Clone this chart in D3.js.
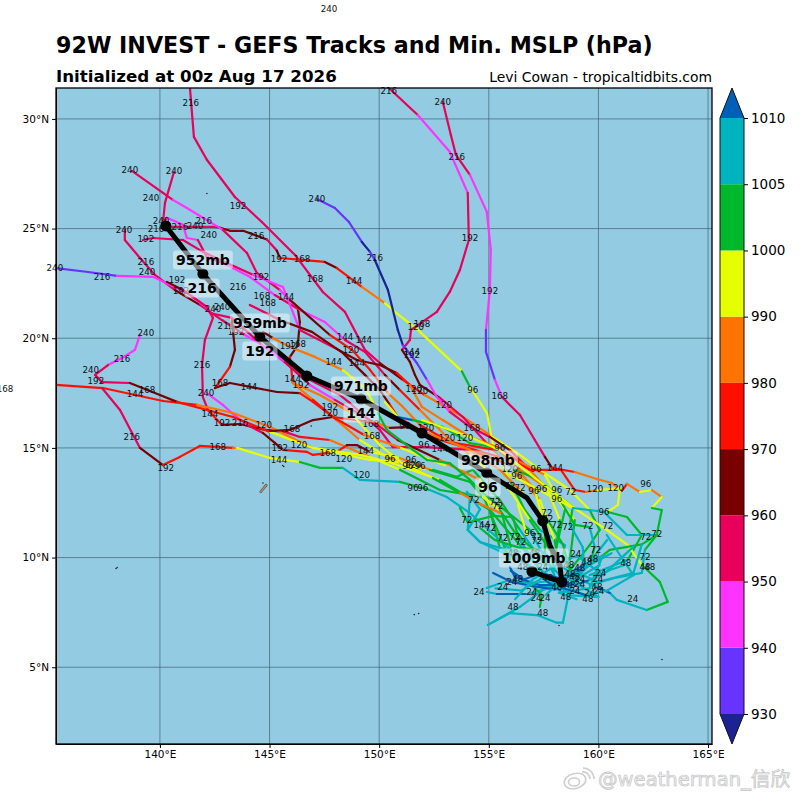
<!DOCTYPE html>
<html>
<head>
<meta charset="utf-8">
<script src="https://cdn.jsdelivr.net/npm/d3@7"></script>
<style>
body { margin: 0; background: #fff; }
text { font-family: "DejaVu Sans", sans-serif; }
.axis text { font-size: 10.5px; fill: #000; }
.axis line, .axis path { stroke: #000; }
.grid { stroke: #3f5a68; stroke-opacity: 0.65; stroke-width: 1; }
.seg { fill: none; stroke-width: 2.2; stroke-linecap: round; }
.hour { font-size: 8.7px; fill: #111; text-anchor: middle; }
.mean { font-size: 14px; font-weight: bold; fill: #000; text-anchor: middle; }
</style>
</head>
<body>
<script>
//colour levels of minimum pressure (hPa)
var levels = [930, 940, 950, 960, 970, 980, 990, 1000, 1005, 1010];
var levelColors = ["#1a2294", "#6633ff", "#ff33ff", "#e8005a", "#780000", "#ff0f00", "#ff7300", "#e6ff00", "#00b82b", "#00b4bf", "#0060b8"];
var lonTicks = [140, 145, 150, 155, 160, 165];
var latTicks = [5, 10, 15, 20, 25, 30];

//ensemble member tracks: [lon, lat, mslp]
var tracks = [
[[141.37,31.41,955],[141.55,29.18,955],[142.14,28.14,955],[143.42,26.44,955],[144.65,25.3,955],[146.16,23.8,955],[147.43,22.11,955],[148.44,21.2,955],[149.35,19.47,955],[150.03,18.87,965],[151.08,18.1,975],[152.08,17.41,985],[153.82,16.41,985],[155.18,15.5,995],[156.42,14.68,995],[157.33,14,995],[158.7,13.08,995],[159.6,12.17,1002],[160.06,11.26,1002],[159.6,10.57,1002],[158.7,9.43,1007]],
[[140.14,25.08,955],[141.5,25.08,955],[142.6,25.08,965],[143.2,24.9,965],[143.8,24.9,965],[144.88,24.5,955],[145.33,24.0,965],[145.47,23.66,975],[146.48,23.57,975],[147.52,23.48,965],[148.07,23.2,975],[149.21,22.34,985],[150.26,21.6,995],[150.72,21.2,995],[151.76,20.38,995],[153.77,18.5,1002],[154.14,17.78,995],[154.91,16.6,995],[155.18,15.23,995],[155.96,13.54,1002],[156.64,12.17,1002],[157.33,11.26,1007],[158.47,10.57,1007],[158.24,9.2,1007]],
[[150.44,31.41,955],[151.76,30.18,945],[153.22,28.5,945],[154.04,26.63,955],[154.09,24.48,955],[153.68,23.11,955],[153.22,22.11,955],[152.63,21.2,955],[151.76,20.6,955],[151.45,20.38,955],[151.4,19.92,955],[151.04,19.47,965],[151.4,18.92,965],[151.63,18.33,965],[151.86,17.87,965],[152.77,17.28,955],[153.82,16.41,955],[155.18,14.91,975],[156.42,14.0,985],[157.78,13.08,995],[158.92,11.71,1002],[158.7,9.9,1007]],
[[152.9,30.78,955],[153.27,29.27,955],[153.5,28.36,955],[154.14,27.45,945],[154.91,25.76,945],[155.09,24.03,945],[155.05,22.2,945],[154.87,20.38,935],[154.87,19.38,935],[155.28,18.1,945],[155.6,17.32,955],[156.42,16.5,955],[157.1,15.36,955],[157.56,14.59,965],[157.88,14.09,975],[158.92,13.9,985],[159.93,13.58,985],[160.61,13.4,985],[161.07,13.04,975],[161.3,13.36,985],[161.89,12.99,995],[162.44,13.08,985],[162.89,12.76,995],[162.44,12.26,1002],[162.89,12.17,1002],[162.66,11.03,1002],[162.12,10.35,1007],[161.98,9.3,1007],[160.75,9.07,1007],[159.6,8.75,1007]],
[[147.16,26.35,935],[147.98,25.94,935],[148.62,25.3,935],[149.21,24.39,925],[149.58,23.94,935],[149.8,23.57,925],[150.4,22.2,925],[150.85,20.38,925],[151.08,19.69,935],[151.72,18.87,935],[152.18,18.1,945],[152.63,17.32,945],[153.22,16.64,955],[154.14,15.96,955],[155.05,15.5,965],[155.96,14.9,975],[156.87,14.0,985],[157.69,13.08,995],[158.24,11.71,1002],[158.0,9.9,1007]],
[[138.72,27.63,955],[140.14,26.63,955],[140.59,26.31,945],[141.23,25.94,945],[142.87,24.94,955],[143.97,23.89,955],[144.42,22.98,955],[145.47,22.2,945],[146.29,21.38,965],[146.38,20.74,965],[146.29,19.69,965],[145.93,19.15,975],[146.06,17.96,985],[146.98,17.19,975],[148.07,16.27,985],[149.12,15.36,995],[150.35,14.59,985],[151.54,14.13,995],[152.45,14.0,1002],[153.54,13.68,1002],[154.27,14.0,1002],[155.5,12.63,1002],[156.42,11.26,1007],[157.56,9.66,1007]],
[[140.64,27.58,955],[140.23,26.17,955],[140.14,25.3,955],[140.32,25.49,945],[141.05,25.17,945],[141.23,24.57,945],[141.73,24.48,955],[142.14,23.71,955],[143.06,23.34,945],[144.1,22.8,945],[145.24,21.97,955],[146.38,21.29,945],[147.52,20.74,945],[148.44,19.92,955],[149.35,19.38,955],[150.26,18.33,965],[150.94,17.64,975],[151.86,16.73,985],[153.0,15.59,985],[154.14,14.68,995],[155.96,13.08,995],[156.87,11.71,1002],[157.78,10.35,1007]],
[[138.4,24.94,955],[138.4,24.48,955],[139.09,23.66,955],[139.77,22.89,955],[140.68,22.2,965],[141.82,21.52,955],[142.83,20.83,955],[143.88,20.15,945],[145.02,19.47,955],[146.38,18.33,955],[148.21,17.41,955],[148.66,17.05,955],[150.03,15.82,955],[150.62,15.04,955],[152.18,15.04,955],[154.14,14.91,975],[155.96,14.22,985],[157.33,12.63,995],[158.0,10.8,1002],[158.24,9.43,1007]],
[[139.22,24.48,955],[139.68,24.57,955],[141.05,24.48,955],[141.96,23.94,955],[143.06,23.43,955],[144.24,22.89,945],[145.61,22.34,945],[146.38,20.38,955],[147.98,19.56,965],[148.98,19.01,965],[150.03,18.78,965],[150.8,18.42,975],[151.4,17.87,985],[151.95,16.87,985],[152.9,16.27,985],[154.14,15.5,985],[155.37,15.04,975],[156.42,14.36,985],[157.56,13.77,995],[158.47,12.17,1002],[158.0,10.1,1007]],
[[135.26,23.2,935],[136.72,23.02,935],[138.04,22.84,945],[139.68,22.8,945],[141.23,22.07,945],[142.14,21.38,945],[142.28,21.15,955],[143.28,20.93,955],[143.65,20.6,955],[144.65,19.69,945],[145.7,18.92,955],[146.84,17.87,945],[147.98,17.19,955],[149.8,16.14,955],[150.85,15.36,965],[152.77,14.45,985],[154.6,13.54,995],[155.05,12.17,1002],[155.5,10.44,1007],[157.1,9.43,1007]],
[[140.32,22.57,965],[141.05,22.2,955],[142.14,21.43,955],[142.42,20.93,955],[142.05,19.92,955],[141.92,18.78,955],[141.96,17.32,955],[142.19,16.73,975],[142.83,16.05,965],[143.65,16.09,965],[144.79,15.82,965],[145.7,15.73,955],[146.38,15.5,975],[147.75,15.36,985],[149.58,14.59,995],[150.94,14.0,1002],[152.77,13.08,1002],[154.14,12.86,1007],[154.04,11.26,1007],[154.6,10.71,1007],[156.87,9.66,1007]],
[[142.14,17.5,945],[142.87,16.96,945],[143.28,16.59,945],[143.97,16.05,955],[144.7,15.68,965],[145.24,15.23,965],[145.61,14.91,975],[146.7,14.82,975],[146.98,14.68,975],[148.07,14.82,975],[148.53,15.13,965],[148.98,15.13,965],[149.58,14.82,995],[150.94,14.54,985],[152.31,14,1002],[154.14,13.45,1002],[154.82,12.63,1002],[155.96,9.9,1007]],
[[135.26,17.87,975],[137.4,17.73,975],[140.14,17.14,975],[141.69,16.96,985],[143.33,16.59,985],[145.02,15.96,985],[145.93,15.5,985],[146.98,15.0,995],[149.58,14.45,995],[150.94,14.36,985],[152.45,13.63,1002],[153.68,12.95,1002],[154.73,12.76,995],[155.5,12.17,1002],[156.42,10.8,1007],[157.33,9.43,1007]],
[[137.36,18.0,955],[138.63,17.96,965],[140.0,17.41,965],[140.78,17.1,975],[143.33,16.41,975],[145.02,15.73,995],[146.98,15,995],[149.12,14.68,995],[150.44,14.36,995],[152.77,13.54,1002],[155.05,12.17,1002],[156.42,10.57,1007],[157.78,8.98,1007]],
[[137.36,17.73,955],[138.18,16.73,955],[139.09,15.0,965],[140.14,14.22,975],[140.91,14.59,975],[141.82,15.09,975],[143.33,15.0,985],[143.51,15.0,995],[145.02,14.54,995],[146.38,14.36,1002],[147.3,14.09,1002],[148.34,14.09,1007],[149.12,13.54,1007],[150.94,13.45,1002],[152.31,13.08,1007],[153.09,12.76,1007],[154.14,12.03,1007],[155.5,10.8,1007],[157.33,9.2,1007]],
[[139.09,20.15,945],[138.86,19.47,945],[138.27,19.1,945],[137.63,18.78,955],[137.04,18.33,955],[137.36,18.0,955]],
[[143.28,20.83,965],[143.42,19.47,965],[143.19,18.69,975],[142.51,17.73,965],[143.19,17.96,965],[145.34,17.55,965],[146.38,17.5,975],[146.98,17.1,975],[147.89,16.41,975],[149.9,16.14,985],[150.49,15.91,965],[151.54,15.96,965],[152.77,15.36,975],[155.96,14.45,985],[157.1,13.08,995],[157.78,10.57,1002],[158.0,9.4,1007]],
[[145.02,15.77,965],[145.93,15.82,965],[146.98,16.27,965],[147.89,16.41,975],[149.3,15.6,985],[151.0,15.0,995],[153.0,14.2,1002]],
[[145.93,21.75,965],[147.75,20.15,975],[148.76,19.47,975],[149.58,18.56,975],[150.4,17.5,985],[151.08,16.87,985],[151.86,16.05,975],[153.22,15.27,975],[155.28,14.91,975],[156.87,14,975],[158.29,14.0,975],[158.92,13.08,975],[159.43,12.99,985],[159.97,13.08,995],[160.98,13.17,995],[160.89,12.4,995],[160.43,12.08,1002],[161.3,11.85,1002],[161.98,11.03,1002],[161.34,9.9,1007],[159.6,9.2,1007]],
[[144.1,21.52,955],[145.47,20.83,965],[146.93,20.29,965],[148.34,19.33,965],[149.35,18.33,965],[150.03,17.64,965],[150.49,16.96,975],[150.85,16.41,975],[151.86,15.82,985],[154.14,14.91,985],[155.5,14.0,985],[156.42,13.08,995],[157.56,11.71,1002],[157.56,9.66,1007]],
[[144.7,20.29,965],[145.15,20.01,985],[145.93,19.6,985],[147.07,19.15,985],[148.34,18.55,995],[149.35,17.73,995],[149.71,17.1,995],[149.94,16.6,1002],[150.35,15.82,1002],[151.54,14.91,1002],[152.18,14.45,1002],[153.22,14.31,1002],[154.14,13.54,1002],[154.73,12.95,1002],[156.87,11.26,1007],[158.0,9.2,1007]],
[[146.06,17.96,985],[147.3,17.41,985],[148.66,16.64,995],[150.03,15.13,995],[151.04,14.31,995],[152.45,13.63,1002],[153.68,12.95,985],[154.5,12.5,985],[155.6,12.0,1002],[156.0,10.5,1007]],
[[150.26,17.1,995],[150.85,16.41,1012],[151.54,16.27,1002],[152.9,15.96,1002],[154.14,15.22,1002],[155.18,15.04,1007],[156.19,14,1002],[157.1,13.63,1002],[158.83,12.3,1002],[158.7,11.49,1007],[159.28,10.48,1007],[159.37,9.43,1007]],
[[151.95,16.27,995],[154.14,15.5,995],[155.5,14.91,995],[157.1,13.63,995],[158.83,12.3,995],[160.38,11.26,995],[161.34,10.57,995],[161.98,9.66,1002],[162.8,8.89,1002],[163.16,7.98,1002],[162.2,7.61,1007],[160.84,8.07,1007],[160.52,8.39,1012],[159.93,8.66,1007],[158.7,9.2,1007]],
[[158.33,12.49,1002],[158.92,11.49,1002],[159.6,11.39,1007],[159.83,10.48,1002],[159.6,9.66,1007],[158.7,8.98,1007]],
[[155.96,13.8,995],[158.83,12.26,1007],[160.25,12.08,1007],[161.3,11.03,1007],[162.66,11.03,1002],[161.98,10.6,1002],[160.52,10.35,1002],[159.75,9.75,1007],[158.92,9.2,1007]],
[[154.96,6.93,1007],[155.96,7.47,1007],[157.19,7.38,1007],[158.1,7.03,1007],[158.38,7.03,1007],[158.56,7.93,1007],[158.7,8.66,1007],[159.15,9.43,1007]],
[[154.96,6.93,1007],[156.42,7.75,1007],[157.46,8.52,1007],[158.38,8.98,1007]],
[[154.91,8.43,1007],[155.37,8.34,1012],[156.74,8.34,1007],[157.92,8.66,1007],[159.06,9.43,1007]],
[[154.91,8.61,1007],[155.96,8.98,1007],[156.87,8.84,1007],[158.24,8.52,1012],[158.92,8.98,1007],[160.06,9.66,1007]],
[[155.96,9.57,1012],[156.19,9.11,1012],[157.33,8.75,1012],[158.92,8.75,1012],[159.6,8.98,1007],[160.52,9.43,1007],[161.2,9.66,1007]],
[[157.33,7.75,1002],[157.42,8.29,1002],[156.87,8.84,1007],[158.7,9.0,1007],[160.0,8.2,1007],[158.4,8.3,1007]],
[[156.9,9.5,1012],[157.8,8.8,1012],[159.4,9.7,1007],[160.2,10.1,1007],[159.6,8.6,1007],[158.2,8.4,1007],[159.0,8.1,1007]],
[[154.0,13,1007],[154.6,12.2,1007],[154.04,11.26,1007],[154.6,10.71,1007],[155.5,10.44,1007],[156.42,10.27,1007]],
[[153.68,12.26,1002],[154.04,11.6,1002],[155.2,11.9,1002],[156.1,11.85,1002],[156.28,11.17,1002],[156.55,10.8,1002],[157.56,9.9,1007],[158.24,9.2,1007]],
[[156.33,12.4,995],[156.74,11.03,995]],
[[154.6,11.35,1002],[155.28,10.8,1002],[156.42,10.44,1002],[157.33,10.35,1007],[158.6,9.4,1007]],
[[157.6,11.85,1002],[158.38,10.6,1002],[158.7,9.4,1007],[158.2,8.6,1012]],
[[155.2,9.3,1012],[156.0,8.9,1012],[157.0,8.7,1012],[158.0,8.55,1012],[159.0,8.9,1007]],
[[156.0,9.4,1012],[156.6,9.0,1012],[157.4,9.3,1012],[158.4,9.0,1012],[159.3,9.5,1007],[160.6,10.2,1007]],
[[155.3,8.6,1007],[156.5,8.5,1007],[157.5,9.1,1007],[158.6,8.4,1007],[159.6,9.8,1007],[160.4,10.8,1007]],
[[156.2,8.1,1007],[157.0,9.0,1007],[158.0,9.6,1007],[159.0,10.1,1007],[160.2,9.2,1007],[161.6,10.5,1007]],
[[160.38,11.03,1007],[161.07,9.98,1007],[161.6,9.2,1007],[160.4,8.5,1007],[159.4,8.3,1012],[158.4,8.6,1007]],
[[161.98,10.6,1007],[161.6,9.3,1007],[160.0,8.9,1007],[158.8,9.4,1007],[157.6,8.3,1007]]
];

//forecast hour labels: [hour, lon, lat]
var hourLabels = [
[240,147.71,35.02],[216,141.41,30.73],[216,150.44,31.28],[240,152.9,30.78],[216,153.54,28.27],[240,138.63,27.67],[240,140.64,27.63],[240,139.59,26.4],[192,143.56,26.03],[240,147.16,26.35],
[216,142.0,25.35],[240,140.05,25.35],[216,140.91,25.08],[216,139.82,24.98],[240,141.6,25.12],[240,138.36,24.94],[192,139.36,24.53],[240,142.23,24.71],[216,144.38,24.66],[192,154.14,24.57],
[216,149.8,23.66],[192,145.43,23.62],[168,146.48,23.62],[216,139.36,23.48],[240,139.41,23.02],[216,137.36,22.8],[240,135.21,23.2],[192,140.78,22.66],[192,144.61,22.8],[168,147.07,22.7],
[144,148.85,22.61],[192,140.96,22.16],[216,143.56,22.34],[192,155.05,22.16],[168,144.65,21.93],[144,145.75,21.88],[168,144.92,21.61],[240,142.42,21.34],[240,142.83,21.43],[216,143.01,20.56],
[192,143.47,20.29],[120,151.67,20.52],[168,151.95,20.65],[240,139.36,20.24],[144,148.44,20.06],[144,149.3,19.92],[192,145.84,19.65],[168,146.29,19.74],[120,148.71,19.47],[144,151.49,19.38],
[192,151.49,19.24],[216,141.92,18.78],[144,147.93,18.92],[144,148.98,18.87],[216,138.27,19.06],[240,136.85,18.55],[144,146.06,18.14],[192,146.43,17.87],[192,137.08,18.05],[168,142.74,17.96],
[144,144.06,17.78],[144,138.86,17.46],[168,139.41,17.64],[168,132.93,17.69],[240,142.1,17.5],[120,151.58,17.69],[120,151.86,17.6],[96,154.27,17.64],[168,155.5,17.37],[120,152.95,16.96],
[192,147.75,16.87],[120,147.75,16.59],[144,142.28,16.55],[192,142.83,16.14],[216,143.65,16.14],[120,144.74,16.05],[168,146.02,15.86],[168,149.62,16.09],[168,149.67,15.55],[216,138.72,15.5],
[168,154.23,15.91],[96,151.17,16],[120,152.13,15.91],[120,153.09,15.45],[120,153.91,15.45],[96,152.04,15.13],[144,152.77,14.95],[192,145.47,15],[168,142.64,15.04],[120,146.34,15.13],
[144,145.43,14.45],[168,147.66,14.77],[120,148.39,14.5],[144,149.39,14.86],[96,150.49,14.5],[96,151.45,14.45],[96,151.31,14.18],[120,151.54,14.22],[96,151.86,14.18],[192,140.27,14.09],
[120,149.21,13.77],[96,151.54,13.17],[96,151.99,13.17],[96,155.5,15],[96,157.15,14.04],[144,158.01,14.09],[120,155.96,14.04],[96,156.28,13.72],[96,157.05,13.04],[96,157.42,13.13],
[96,158.1,13.08],[72,158.74,12.99],[120,159.84,13.13],[120,160.79,13.17],[96,162.16,13.36],[96,158.1,12.67],[96,160.25,12.08],[72,155.96,13.26],[72,156.42,13.17],[72,154.32,12.63],
[72,155.28,12.54],[72,155.41,12.35],[72,157.65,12.03],[72,157.69,11.76],[72,158.1,11.49],[72,158.6,11.39],[72,159.52,11.44],[72,160.43,11.44],[72,154,11.71],[144,154.68,11.49],
[72,155.09,11.35],[72,155.64,10.89],[72,156.19,10.94],[72,156.46,10.71],[96,156.87,11.12],[72,157.19,10.94],[72,157.19,10.76],[72,162.16,10.94],[72,162.66,11.08],[72,159.88,10.35],
[72,162.12,10.03],[48,162.12,9.57],[48,162.34,9.57],[48,161.25,9.75],[24,158.97,10.16],[48,159.74,9.94],[48,159.47,9.8],[48,158.65,9.66],[48,159.15,9.53],[24,160.11,9.3],
[24,159.97,9.02],[48,159.93,8.66],[24,160.02,8.48],[24,161.57,8.11],[48,159.52,8.11],[24,159.6,8.39],[48,158.7,9.25],[24,159.15,9.02],[48,158.92,9.12],[48,158.7,8.75],
[24,159.15,8.8],[48,158.1,8.66],[24,158.92,8.48],[48,158.51,8.2],[24,157.56,8.16],[24,157.15,8.16],[24,156.96,8.43],[48,156.1,7.75],[48,157.46,7.47],[24,154.55,8.43],
[24,155.64,8.66],[24,156.05,8.89],[48,156.32,9.02],[48,156.55,9.57],[24,157.46,9.57],[48,157.69,9.07],[48,156.1,10.2],[48,157.1,10.2]
];

//ensemble mean track and its labels
var meanTrack = [[156.97,9.37],[157.78,9.07],[158.33,8.89],[158.24,9.66],[157.78,10.57],[157.46,11.67],[156.74,12.72],[154.91,13.86],[151.95,15.68],[149.17,17.23],[146.7,18.28],[144.56,20.06],[141.96,22.93],[140.27,25.12]];
var meanDots = [[156.97,9.37],[158.33,8.89],[157.46,11.67],[154.91,13.86],[151.95,15.68],[149.17,17.23],[146.7,18.28],[144.56,20.06],[141.96,22.93],[140.27,25.12]];
var meanLabels = [["952mb",141.96,23.57],["216",141.92,22.29],["959mb",144.56,20.7],["192",144.56,19.42],["971mb",149.17,17.82],["144",149.17,16.59],["998mb",154.96,14.45],["96",154.96,13.22],["1009mb",157.05,9.98]];

//small islands on the map
var islands = [[142.14,26.6],[138.0,9.5],[138.05,9.55],[151.6,7.4],[151.8,7.45],[162.9,5.35],[146.9,16.0],[145.6,14.2],[145.65,14.15],[144.7,13.4],[158.2,6.9]];

var width = 800, height = 800;

var svg = d3.select("body")
    .append("svg")
    .attr("width", width)
    .attr("height", height);

//map frame
var x = d3.scaleLinear().domain([135.26, 165.18]).range([56, 712]);
var y = d3.scaleLinear().domain([1.5, 31.41]).range([744, 88]);
var color = d3.scaleThreshold().domain(levels).range(levelColors);

svg.append("clipPath")
    .attr("id", "frame")
    .append("rect")
    .attr("x", 56)
    .attr("y", 88)
    .attr("width", 656)
    .attr("height", 656);

svg.append("rect")
    .attr("x", 56)
    .attr("y", 88)
    .attr("width", 656)
    .attr("height", 656)
    .attr("fill", "#92cbe2");

//graticule
svg.selectAll(".gridx")
    .data(lonTicks)
    .enter()
    .append("line")
    .attr("class", "grid")
    .attr("x1", function(d){ return x(d); })
    .attr("x2", function(d){ return x(d); })
    .attr("y1", 88)
    .attr("y2", 744);

svg.selectAll(".gridy")
    .data(latTicks)
    .enter()
    .append("line")
    .attr("class", "grid")
    .attr("y1", function(d){ return y(d); })
    .attr("y2", function(d){ return y(d); })
    .attr("x1", 56)
    .attr("x2", 712);

//islands
svg.append("g")
    .selectAll("circle")
    .data(islands)
    .enter()
    .append("circle")
    .attr("cx", function(d){ return x(d[0]); })
    .attr("cy", function(d){ return y(d[1]); })
    .attr("r", 0.8)
    .attr("fill", "#222");

//long thin atoll
svg.append("line")
    .attr("x1", x(144.6))
    .attr("y1", y(13.0))
    .attr("x2", x(144.85))
    .attr("y2", y(13.3))
    .attr("stroke", "#555")
    .attr("stroke-width", 2.6)
    .attr("stroke-linecap", "round");
svg.append("line")
    .attr("x1", x(144.6))
    .attr("y1", y(13.0))
    .attr("x2", x(144.85))
    .attr("y2", y(13.3))
    .attr("stroke", "#b98a5e")
    .attr("stroke-width", 1.4)
    .attr("stroke-linecap", "round");

//member tracks, one line per segment coloured by pressure
var trackLayer = svg.append("g").attr("clip-path", "url(#frame)");

tracks.forEach(function(track){
    trackLayer.append("g")
        .selectAll("line")
        .data(d3.pairs(track))
        .enter()
        .append("line")
        .attr("class", "seg")
        .attr("x1", function(d){ return x(d[0][0]); })
        .attr("y1", function(d){ return y(d[0][1]); })
        .attr("x2", function(d){ return x(d[1][0]); })
        .attr("y2", function(d){ return y(d[1][1]); })
        .attr("stroke", function(d){ return color(d[0][2]); });
});

//hour labels (not clipped, as in the original)
svg.append("g")
    .selectAll("text")
    .data(hourLabels)
    .enter()
    .append("text")
    .attr("class", "hour")
    .attr("x", function(d){ return x(d[1]); })
    .attr("y", function(d){ return y(d[2]); })
    .attr("dy", "0.36em")
    .text(function(d){ return d[0]; });

//mean track
var meanLine = d3.line()
    .x(function(d){ return x(d[0]); })
    .y(function(d){ return y(d[1]); });

svg.append("path")
    .datum(meanTrack)
    .attr("d", meanLine)
    .attr("fill", "none")
    .attr("stroke", "#000")
    .attr("stroke-width", 5)
    .attr("stroke-linejoin", "round");

svg.append("g")
    .selectAll("circle")
    .data(meanDots)
    .enter()
    .append("circle")
    .attr("cx", function(d){ return x(d[0]); })
    .attr("cy", function(d){ return y(d[1]); })
    .attr("r", 5.5)
    .attr("fill", "#000");

//mean labels with a pale box behind
var meanGroup = svg.append("g")
    .selectAll("g")
    .data(meanLabels)
    .enter()
    .append("g")
    .attr("transform", function(d){ return "translate(" + x(d[1]) + "," + y(d[2]) + ")"; });

meanGroup.append("text")
    .attr("class", "mean")
    .attr("dy", "0.36em")
    .text(function(d){ return d[0]; })
    .each(function(){
        var b = this.getBBox();
        d3.select(this.parentNode).insert("rect", "text")
            .attr("x", b.x - 3)
            .attr("y", -9.5)
            .attr("width", b.width + 6)
            .attr("height", 19)
            .attr("rx", 3)
            .attr("fill", "#eef6fa")
            .attr("fill-opacity", 0.55);
    });

//axes
var xAxis = d3.axisBottom(x)
    .tickValues(lonTicks)
    .tickSize(4)
    .tickSizeOuter(0)
    .tickFormat(function(d){ return d + "°E"; });
var yAxis = d3.axisLeft(y)
    .tickValues(latTicks)
    .tickSize(4)
    .tickSizeOuter(0)
    .tickFormat(function(d){ return d + "°N"; });

svg.append("g")
    .attr("class", "axis")
    .attr("transform", "translate(0,744)")
    .call(xAxis);
svg.append("g")
    .attr("class", "axis")
    .attr("transform", "translate(56,0)")
    .call(yAxis);

svg.append("rect")
    .attr("x", 56)
    .attr("y", 88)
    .attr("width", 656)
    .attr("height", 656)
    .attr("fill", "none")
    .attr("stroke", "#000")
    .attr("stroke-width", 1.3);

//colorbar
var cb = d3.scalePoint().domain(levels).range([714, 118]);
var cbLeft = 720, cbRight = 744;

svg.append("g")
    .selectAll("rect")
    .data(d3.pairs(levels))
    .enter()
    .append("rect")
    .attr("x", cbLeft)
    .attr("width", cbRight - cbLeft)
    .attr("y", function(d){ return cb(d[1]); })
    .attr("height", function(d){ return cb(d[0]) - cb(d[1]); })
    .attr("fill", function(d){ return color(d[0]); });

svg.append("path")
    .attr("d", "M" + cbLeft + ",118L732,88L" + cbRight + ",118Z")
    .attr("fill", levelColors[10]);
svg.append("path")
    .attr("d", "M" + cbLeft + ",714L732,744L" + cbRight + ",714Z")
    .attr("fill", levelColors[0]);
svg.append("path")
    .attr("d", "M" + cbLeft + ",118L732,88L" + cbRight + ",118V714L732,744L" + cbLeft + ",714Z")
    .attr("fill", "none")
    .attr("stroke", "#111")
    .attr("stroke-width", 1);

var cbAxis = svg.append("g")
    .attr("class", "axis")
    .attr("transform", "translate(" + cbRight + ",0)")
    .call(d3.axisRight(cb).tickSize(4));
cbAxis.select(".domain").remove();
cbAxis.selectAll("text").style("font-size", "13.5px");

//titles
svg.append("text")
    .attr("x", 56)
    .attr("y", 53)
    .attr("font-size", 22.2)
    .attr("font-weight", "bold")
    .text("92W INVEST - GEFS Tracks and Min. MSLP (hPa)");
svg.append("text")
    .attr("x", 56)
    .attr("y", 82)
    .attr("font-size", 16.7)
    .attr("font-weight", "bold")
    .text("Initialized at 00z Aug 17 2026");
svg.append("text")
    .attr("x", 712)
    .attr("y", 82)
    .attr("font-size", 13.9)
    .attr("text-anchor", "end")
    .text("Levi Cowan - tropicaltidbits.com");

//watermark
var mark = svg.append("g")
    .attr("fill", "none")
    .attr("stroke", "#cfcfcf")
    .attr("stroke-width", 1.6);
mark.append("ellipse").attr("cx", 575).attr("cy", 781).attr("rx", 11).attr("ry", 7.5).attr("transform", "rotate(-15 575 781)");
mark.append("ellipse").attr("cx", 574).attr("cy", 782).attr("rx", 5.5).attr("ry", 4);
mark.append("path").attr("d", "M582,772A7,7 0 0 1 590,779");
mark.append("path").attr("d", "M583,768A11,11 0 0 1 594,779");

svg.append("text")
    .attr("x", 598)
    .attr("y", 786)
    .attr("font-size", 19.6)
    .style("font-family", "'DejaVu Sans', 'Noto Sans CJK SC', sans-serif")
    .attr("fill", "#f2f2f2")
    .attr("stroke", "#c4c4c4")
    .attr("stroke-width", 0.7)
    .text("@weatherman_信欣");
</script>
</body>
</html>
